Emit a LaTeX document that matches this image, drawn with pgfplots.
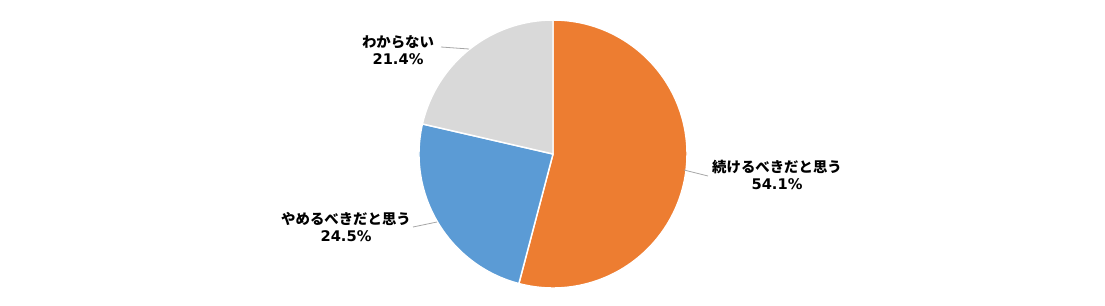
\documentclass[border=0pt]{standalone}
\usepackage{pgfplots}
\pgfplotsset{compat=1.18}
\usepackage{fontspec}
\setmainfont{Noto Sans CJK JP}[BoldFont={* Bold}]
\newfontfamily\jpb{Noto Sans CJK JP Black}
\newfontfamily\numf{DejaVu Sans}[BoldFont={* Bold}]
\definecolor{cOr}{HTML}{ED7D31}
\definecolor{cBl}{HTML}{5B9BD5}
\definecolor{cGr}{HTML}{D9D9D9}
\definecolor{cLn}{HTML}{A6A6A6}
\newcommand\lab[2]{\jpb #1\\{\numf\bfseries\fontsize{11pt}{13.2pt}\selectfont #2}}
\begin{document}
\begin{tikzpicture}
\begin{axis}[
  width=828.75pt, height=228.75pt, scale only axis,
  xmin=0, xmax=1105, ymin=0, ymax=305,
  hide axis, clip=false,
]
\path (rel axis cs:0,0) rectangle (rel axis cs:1,1);
% values (%): 54.1, 24.5, 21.4 ; start at 90 deg, clockwise
\pgfmathsetmacro{\aA}{90}
\pgfmathsetmacro{\aB}{90-54.1*3.6}
\pgfmathsetmacro{\aC}{\aB-24.5*3.6}
\pgfmathsetmacro{\aD}{\aC-21.4*3.6}
\def\R{100.5pt}
\filldraw[fill=cOr, draw=white, line width=1.1pt, line join=round]
  (axis cs:553,151) -- ++(\aA:\R) arc[start angle=\aA, end angle=\aB, radius=\R] -- cycle;
\filldraw[fill=cBl, draw=white, line width=1.1pt, line join=round]
  (axis cs:553,151) -- ++(\aB:\R) arc[start angle=\aB, end angle=\aC, radius=\R] -- cycle;
\filldraw[fill=cGr, draw=white, line width=1.1pt, line join=round]
  (axis cs:553,151) -- ++(\aC:\R) arc[start angle=\aC, end angle=\aD, radius=\R] -- cycle;
% leader lines
\draw[cLn, line width=0.6pt] (axis cs:684,135) -- (axis cs:708,129);
\draw[cLn, line width=0.6pt] (axis cs:437,83) -- (axis cs:413,78);
\draw[cLn, line width=0.6pt] (axis cs:469,256) -- (axis cs:441,258);
% labels
\node[align=center, font=\fontsize{10.8pt}{13.2pt}\selectfont, inner sep=0pt] at (axis cs:777,130)
  {\lab{続けるべきだと思う}{54.1\%}};
\node[align=center, font=\fontsize{10.8pt}{13.2pt}\selectfont, inner sep=0pt] at (axis cs:346,78)
  {\lab{やめるべきだと思う}{24.5\%}};
\node[align=center, font=\fontsize{10.8pt}{13.2pt}\selectfont, inner sep=0pt] at (axis cs:398,255)
  {\lab{わからない}{21.4\%}};
\end{axis}
\end{tikzpicture}
\end{document}
